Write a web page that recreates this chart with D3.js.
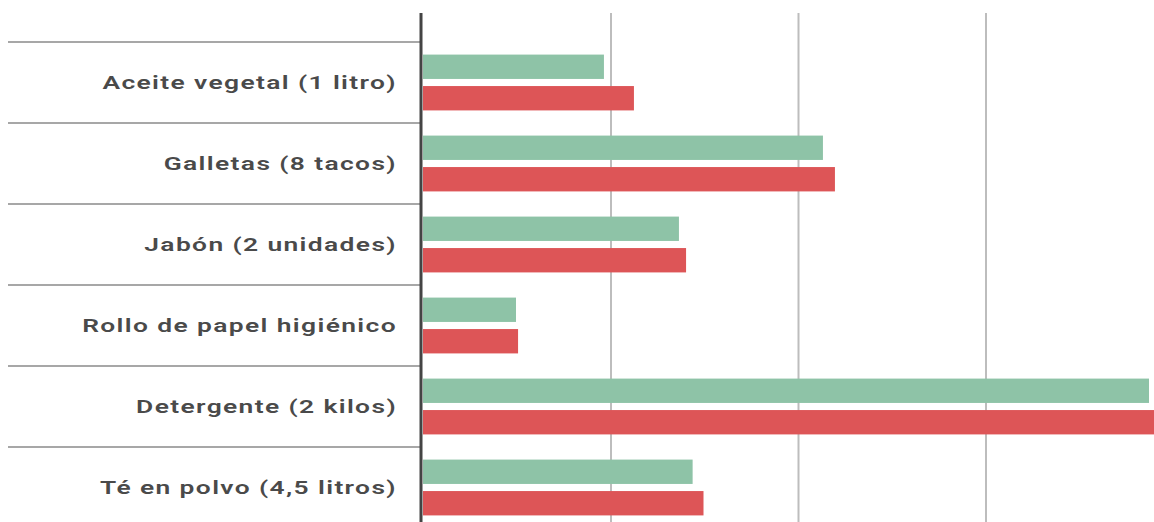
<!DOCTYPE html>
<html>
<head>
<meta charset="utf-8">
<script src="https://cdn.jsdelivr.net/npm/d3@7"></script>
<style>
  body { margin: 0; background: #fff; overflow: hidden; }
  #grafico text { font-family: Roboto, "Open Sans", sans-serif; }
</style>
</head>
<body>
<div id="grafico"></div>
<script>
// Dati
var categorie = ["Aceite vegetal (1 litro)", "Galletas (8 tacos)", "Jabón (2 unidades)",
  "Rollo de papel higiénico", "Detergente (2 kilos)", "Té en polvo (4,5 litros)"];
var serie = ["antes", "despues"];
var valoriAntes = [96.5, 213.3, 136.5, 49.6, 387.2, 143.8];
var valoriDopo = [112.5, 219.7, 140.3, 50.7, 400, 149.6];
var tickGriglia = [100, 200, 300];

var width = 1154, height = 522;
var colori = {antes: "#8ec3a7", despues: "#dd5557"};

var svg = d3.select("#grafico")
  .append("svg")
  .attr("width", width)
  .attr("height", height);

// Scala X
var x = d3.scaleLinear()
  .domain([0, 100])
  .range([423, 610.5]);

// Scala Y per categorie
var y = d3.scaleBand()
  .domain(categorie)
  .range([42, 42 + 81 * categorie.length]);

var ySub = d3.scaleBand()
  .domain(serie)
  .range([0, y.bandwidth()])
  .paddingInner(0.226)
  .paddingOuter(0.4);

// Griglia verticale
svg.append("g")
  .attr("transform", "translate(0," + height + ")")
  .call(d3.axisBottom(x).tickValues(tickGriglia).tickSize(height - 13).tickFormat(""))
  .call(function (g) {
    g.select(".domain").remove();
    g.selectAll("line").attr("stroke", "#bdbdbd").attr("stroke-width", 2)
      .attr("y2", -(height - 13));
  });

// Linee separatrici delle categorie
svg.append("g")
  .selectAll("line")
  .data(categorie)
  .enter()
  .append("line")
  .attr("x1", 8)
  .attr("x2", 421)
  .attr("y1", function (d) { return y(d); })
  .attr("y2", function (d) { return y(d); })
  .attr("stroke", "#8a8a8a")
  .attr("stroke-width", 1.5);

// Etichette (il grafico originale è allargato in orizzontale)
svg.append("g")
  .selectAll("text")
  .data(categorie)
  .enter()
  .append("text")
  .attr("transform", function (d) {
    return "translate(397," + (y(d) + y.bandwidth() / 2) + ") scale(1.51,1)";
  })
  .attr("dy", "0.35em")
  .attr("text-anchor", "end")
  .attr("fill", "#4a4a4a")
  .attr("font-size", 17.5)
  .attr("font-weight", 600)
  .attr("letter-spacing", 0.9)
  .text(function (d) { return d; });

// Barre
var righe = svg.append("g")
  .selectAll("g")
  .data(categorie)
  .enter()
  .append("g")
  .attr("transform", function (d) { return "translate(0," + y(d) + ")"; });

righe.selectAll("rect")
  .data(function (d, i) {
    return [{s: "antes", v: valoriAntes[i]}, {s: "despues", v: valoriDopo[i]}];
  })
  .enter()
  .append("rect")
  .attr("x", x(0))
  .attr("y", function (d) { return ySub(d.s); })
  .attr("width", function (d) { return x(d.v) - x(0); })
  .attr("height", ySub.bandwidth())
  .attr("fill", function (d) { return colori[d.s]; });

// Asse Y
svg.append("line")
  .attr("x1", 421)
  .attr("x2", 421)
  .attr("y1", 13)
  .attr("y2", height)
  .attr("stroke", "#444")
  .attr("stroke-width", 3);
</script>
</body>
</html>
